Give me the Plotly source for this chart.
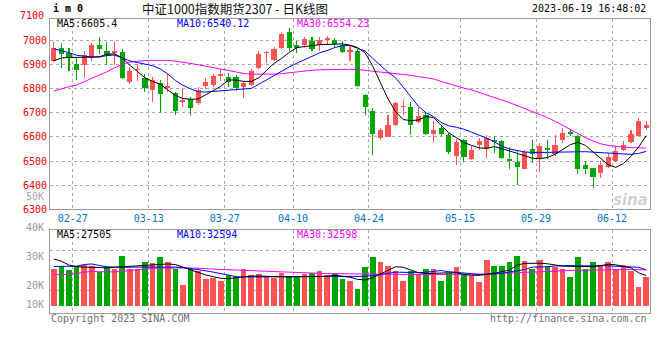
import plotly.graph_objects as go

# ---------------- data ----------------
dates = ["02-22","02-23","02-24","02-27","02-28","03-01","03-02","03-03","03-06","03-07",
         "03-08","03-09","03-10","03-13","03-14","03-15","03-16","03-17","03-20","03-21",
         "03-22","03-23","03-24","03-27","03-28","03-29","03-30","03-31","04-03","04-04",
         "04-06","04-07","04-10","04-11","04-12","04-13","04-14","04-17","04-18","04-19",
         "04-20","04-21","04-24","04-25","04-26","04-27","04-28","05-04","05-05","05-08",
         "05-09","05-10","05-11","05-12","05-15","05-16","05-17","05-18","05-19","05-22",
         "05-23","05-24","05-25","05-26","05-29","05-30","05-31","06-01","06-02","06-05",
         "06-06","06-07","06-08","06-09","06-12","06-13","06-14","06-15","06-16"]

opens = [6915,6969,6949,6904,6899,6931,6980,6956,6946,6953,6828,6876,6844,6794,6824,6801,6781,6743,6759,6740,
         6811,6814,6854,6850,6850,6807,6814,6885,6946,6919,6969,7036,6982,6980,6996,6980,7000,7000,6980,6951,
         6955,6772,6709,6596,6600,6649,6722,6725,6660,6691,6614,6637,6607,6522,6589,6508,6565,6549,6587,6582,
         6507,6496,6469,6552,6507,6554,6531,6586,6622,6605,6482,6473,6450,6477,6500,6545,6578,6605,6639]
highs = [6993,6989,6969,6931,6956,6987,7012,6993,6993,6962,6891,6902,6861,6848,6834,6861,6787,6797,6767,6808,
         6843,6861,6881,6865,6857,6830,6881,6955,6955,6973,7036,7050,6996,7014,7014,7014,7016,7009,6996,6976,
         6962,6779,6721,6637,6691,6745,6752,6745,6725,6698,6664,6648,6617,6592,6592,6562,6596,6610,6603,6588,
         6559,6548,6548,6588,6575,6588,6609,6636,6633,6609,6500,6473,6500,6531,6564,6582,6629,6677,6667]
lows = [6910,6886,6875,6834,6845,6913,6942,6899,6899,6841,6821,6832,6787,6743,6700,6787,6689,6724,6689,6731,
        6800,6807,6830,6807,6789,6760,6811,6881,6905,6915,6962,6955,6946,6969,6955,6955,6982,6973,6946,6915,
        6806,6691,6524,6589,6599,6646,6691,6610,6657,6610,6579,6603,6528,6484,6497,6505,6546,6515,6533,6507,
        6466,6401,6466,6493,6455,6507,6523,6575,6605,6446,6446,6387,6430,6473,6497,6541,6575,6602,6629]
closes = [6969,6942,6931,6877,6939,6980,6962,6939,6956,6845,6872,6882,6801,6837,6777,6810,6709,6751,6720,6794,
          6827,6851,6861,6827,6804,6823,6874,6942,6953,6962,7026,6969,6969,7005,6966,7003,7009,6986,6953,6958,
          6810,6722,6612,6630,6650,6741,6729,6649,6687,6612,6627,6614,6538,6579,6519,6546,6583,6596,6579,6511,
          6501,6477,6537,6531,6561,6548,6568,6616,6613,6469,6469,6436,6486,6516,6541,6568,6613,6667,6650]

ma5 = [6915,6927,6929,6929,6928,6930,6932,6942,6944,6928,6897,6869,6845,6830,6818,6795,6772,6759,6756,6757,
       6776,6792,6810,6836,6835,6830,6830,6845,6875,6905,6925,6950,6970,6975,6978,6982,6983,6985,6985,6980,
       6970,6948,6893,6825,6758,6705,6672,6668,6670,6685,6680,6648,6618,6597,6577,6565,6555,6553,6560,6552,
       6542,6532,6520,6512,6510,6515,6528,6548,6568,6578,6565,6538,6510,6485,6474,6490,6520,6558,6605.4]
ma10 = [6965,6958,6949,6938,6934,6931,6931,6937,6939,6926,6915,6908,6902,6895,6882,6861,6834,6814,6799,6787,
        6786,6788,6791,6794,6796,6798,6801,6818,6836,6856,6873,6890,6905,6920,6934,6948,6958,6970,6977,6979,
        6967,6955,6925,6895,6868,6845,6805,6765,6728,6700,6685,6660,6646,6640,6632,6620,6608,6595,6580,6562,
        6550,6544,6538,6536,6535,6536,6537,6538,6539,6540,6539,6537,6535,6533,6532,6530,6528,6532,6540.12]
ma30 = [6790,6800,6808,6815,6828,6842,6856,6870,6886,6900,6910,6914,6916,6917,6918,6917,6914,6910,6905,6899,
        6893,6887,6882,6875,6868,6863,6860,6859,6859,6860,6862,6866,6870,6873,6876,6878,6879,6880,6880,6880,
        6879,6876,6872,6868,6865,6862,6859,6855,6850,6846,6840,6830,6820,6810,6802,6795,6785,6775,6765,6755,
        6742,6730,6718,6705,6692,6680,6665,6648,6630,6612,6597,6583,6572,6565,6560,6558,6556,6555,6554.23]

# volume, thousands of lots
vol_k = [33.0,36.6,32.1,36.0,37.2,36.6,30.6,35.1,33.6,45.5,33.0,33.0,40.2,38.7,44.6,39.6,33.0,18.75,33.0,31.3,
         24.1,25.3,22.3,27.7,26.2,33.0,27.7,29.2,26.2,25.3,30.1,27.1,26.2,29.2,30.1,31.3,28.3,30.1,24.7,22.3,
         15.2,35.1,44.6,40.2,36.6,31.3,22.3,31.3,29.2,33.0,33.0,22.3,30.1,35.1,28.3,26.8,21.2,42.0,36.0,36.6,
         40.2,45.5,41.1,33.6,42.0,36.6,35.1,33.0,26.2,44.6,33.0,40.2,37.5,39.6,33.0,37.5,31.3,17.2,26.2]
vma5_k = [42.5,40.5,37,35.5,35.2,35,34.5,34.5,35,35.5,36,36.5,36.8,37.2,37.5,38,37.5,35,32.5,30.5,
          28,26.5,25,24.7,25.5,26.2,27,27,26.8,26.5,26.2,26.2,26.5,26.5,26.8,26.8,26.8,27.7,27,26,
          24,23.5,25.5,29,32.5,35.5,35,32.5,30.1,29.2,29.5,30.1,30,30,28.5,27.7,27.7,28.5,29.5,31,
          32.5,37,38.5,38.7,38.7,38.2,37,36,35.8,35.6,35.3,35.5,36.4,37.8,37.2,36,34.5,30,27.5]
vma10_k = [35.7,35.7,35.7,36,37.5,38,36.6,35.5,35.1,35.1,35.1,35.2,35.5,35.7,35.7,35.6,35.2,34.8,34,33,
           31.8,30.6,29,27.5,26.5,26.2,26.2,26.2,26.2,26.2,26.2,26.2,26.2,26.2,26.2,26.3,26.5,26.6,26.2,26.2,
           26.3,26.8,27.5,28.3,29.5,30.6,30.3,30.1,30.1,30.5,31.5,32,31,30.6,29.8,29.2,28.5,28.5,29,29.5,
           30.6,31.3,33,35.1,35.1,35.5,36.2,36.6,36.6,36.3,36,36.3,36.6,36.2,36,36,35.5,35,32.6]
vma30_k = [28.3,28.3,28.5,29.5,30.5,31.3,31,30.6,30.8,31.3,32,32.8,33.6,34,34.2,34.4,34.5,34.4,34.3,34.2,
           33.8,33.3,33,33,32.8,32.4,32.1,31.8,31.4,31.2,30.8,30.6,30.3,30.1,29.8,29.5,29.2,29.2,29.1,29,
           28.8,28.6,28.4,28.3,28.3,28.3,28.3,28.3,28.3,28.3,28.3,28.3,28.3,28.3,28.3,28.4,28.6,28.8,29.2,29.5,
           30,30.4,30.6,30.8,31.1,31.4,31.8,32.1,32.1,32.1,32.3,32.6,33,33,33,33,32.9,32.8,32.6]

label_dates = ["02-27","03-13","03-27","04-10","04-24","05-15","05-29","06-12"]
price_ticks = [6300, 6400, 6500, 6600, 6700, 6800, 6900, 7000]
price_top_label = "7100"
vol_tick_labels = ["50K", "40K", "30K", "20K", "10K"]

title_text = "中证1000指数期货2307 - 日K线图"
code_text = "i m 0"
time_text = "2023-06-19 16:48:02"
price_legend = ["MA5:6605.4", "MA10:6540.12", "MA30:6554.23"]
vol_legend = ["MA5:27505", "MA10:32594", "MA30:32598"]

# ---------------- styling / layout ----------------
W, H = 660, 360
def px(x): return x / W
def py(y): return 1 - y / H

RED = "#ff5252"
GREEN = "#00a600"
GRID = "#aaaaaa"
AXIS = "#9a9a9a"
MONO = "DejaVu Sans Mono"
MA_COLORS = ["#000000", "#0000ff", "#ff00ff"]

n = len(dates)
xs = list(range(n))
colors = [RED if c >= o else GREEN for o, c in zip(opens, closes)]
body_lo = [min(o, c) for o, c in zip(opens, closes)]
body_h = [abs(c - o) for o, c in zip(opens, closes)]
min_h = 4.5
body_base = [lo - max(0, min_h - h) / 2 for lo, h in zip(body_lo, body_h)]
body_len = [max(h, min_h) for h in body_h]
wick_len = [h - l for h, l in zip(highs, lows)]

fig = go.Figure()
fig.add_trace(go.Bar(x=xs, y=wick_len, base=lows, width=0.14,
                     marker=dict(color=colors, line=dict(width=0)), xaxis="x", yaxis="y"))
fig.add_trace(go.Bar(x=xs, y=body_len, base=body_base, width=0.68,
                     marker=dict(color=colors, line=dict(width=0)), xaxis="x", yaxis="y"))
for series, col in zip([ma30, ma10, ma5], [MA_COLORS[2], MA_COLORS[1], MA_COLORS[0]]):
    fig.add_trace(go.Scatter(x=xs, y=series, mode="lines", line=dict(color=col, width=1),
                             xaxis="x", yaxis="y"))

fig.add_trace(go.Bar(x=xs, y=vol_k, width=0.74,
                     marker=dict(color=colors, line=dict(width=0)), xaxis="x2", yaxis="y2"))
for series, col in zip([vma30_k, vma10_k, vma5_k], [MA_COLORS[2], MA_COLORS[1], MA_COLORS[0]]):
    fig.add_trace(go.Scatter(x=xs, y=series, mode="lines", line=dict(color=col, width=1),
                             xaxis="x2", yaxis="y2"))

tickpos = [dates.index(d) - 0.5 for d in label_dates]
xdom = [px(50), px(650)]
common_x = dict(domain=xdom, range=[-0.5, n - 0.5], tickvals=tickpos, showgrid=True,
                gridcolor=GRID, griddash="dot", gridwidth=1, showline=True, linecolor=AXIS,
                linewidth=1, mirror=True, ticks="", zeroline=False, fixedrange=True)

fig.update_layout(
    width=W, height=H, margin=dict(l=0, r=0, t=0, b=0),
    paper_bgcolor="white", plot_bgcolor="white", showlegend=False,
    barmode="overlay", bargap=0, hovermode=False,
    xaxis=dict(**common_x, anchor="y", ticktext=label_dates,
               tickfont=dict(family=MONO, size=10, color="#0074c8")),
    yaxis=dict(domain=[py(213), py(19)], range=[6300, 7089.5], tickvals=price_ticks,
               ticktext=[str(t) for t in price_ticks], showgrid=True, gridcolor=GRID,
               griddash="dot", showline=True, linecolor=AXIS, mirror=True, ticks="",
               zeroline=False, tickfont=dict(family=MONO, size=10, color="#ee0000")),
    xaxis2=dict(**common_x, anchor="y2", matches="x", showticklabels=False),
    yaxis2=dict(domain=[py(318), py(234)], range=[-6.25, 68.75], tickvals=[50, 14.3],
                showticklabels=False, showgrid=True, gridcolor=GRID, griddash="dot",
                showline=True, linecolor=AXIS, mirror=True, ticks="", zeroline=False),
)

anns = []
def ann(text, x, y, color, size=10, xanchor="left", family=MONO):
    anns.append(dict(text=text, x=px(x), y=py(y), xref="paper", yref="paper",
                     xanchor=xanchor, yanchor="middle", showarrow=False,
                     font=dict(family=family, size=size, color=color)))

ann("<b>" + code_text + "</b>", 51, 9, "#000000", size=10)
ann(title_text, 140, 9, "#111111", size=12.5, family="Noto Sans CJK SC")
ann(time_text, 648, 9, "#000000", size=10, xanchor="right")
ann(price_top_label, 46, 16, "#ee0000", size=10, xanchor="right")
for txt, xx, col in zip(price_legend, [55, 175, 295], MA_COLORS):
    ann(txt, xx, 23.5, col)
for txt, xx, col in zip(vol_legend, [55, 175, 295], MA_COLORS):
    ann(txt, xx, 238.5, col)
vol_label_y = [200, 231, 261, 290, 310]
for txt, yy in zip(vol_tick_labels, vol_label_y):
    ann(txt, 46, yy, "#a8a8a8" if txt == "50K" else "#9a9a9a", xanchor="right")
ann("Copyright 2023 SINA.COM", 49, 323.5, "#707070")
ann("http://finance.sina.com.cn", 649, 323.5, "#707070", xanchor="right")
ann("<b><i>sina</i></b>", 650, 203, "rgba(170,170,170,0.55)", size=15, xanchor="right",
    family="DejaVu Sans")
fig.update_layout(annotations=anns)

fig.write_html("out.html", config={"displayModeBar": False, "staticPlot": True},
               post_script="document.body.style.margin='0';document.body.style.overflow='hidden';")
